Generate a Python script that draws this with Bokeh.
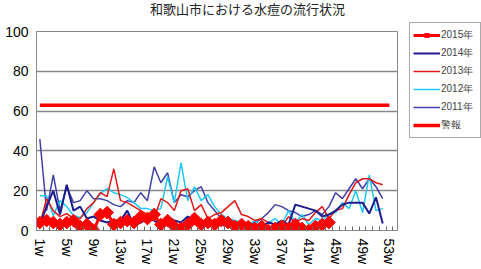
from bokeh.plotting import figure
from bokeh.layouts import row, column
from bokeh.models import FixedTicker, Legend, LegendItem
from bokeh.core.properties import value
from bokeh.embed import file_html
from bokeh.resources import INLINE

title_text = "和歌山市における水痘の流行状況"
weeks = list(range(1, 54))
tick_weeks = [1, 5, 9, 13, 17, 21, 25, 29, 33, 37, 41, 45, 49, 53]
tick_labels = ["1w", "5w", "9w", "13w", "17w", "21w", "25w", "29w", "33w",
               "37w", "41w", "45w", "49w", "53w"]
series_names = ["2015年", "2014年", "2013年", "2012年", "2011年", "警報"]

y2015 = [4, 5, 4, 3, 4, 5, 2, 3, 0, 8, 9, 3, 4, 5, 4, 7, 6, 8, 3, 5, 2, 1,
         3, 6, 3, 4, 3, 5, 4, 2, 3, 2, 1, 2, 0, 1, 2, 1, 3, 1, 0, 2, 3, 4]
y2014 = [3, 12, 20, 8, 23, 10, 12, 6, 7, 5, 4, 5, 5, 10, 2.5, 4, 6, 5, 3, 7,
         5, 4, 7, 5, 3, 4, 5, 3, 2, 4, 3, 2, 3, 2, 4, 3, 5, 3, 13, 12, 11, 10,
         7, 8, 10, 13, 14, 14, 14, 8.5, 16.7, 3.5]
y2013 = [3, 16, 10, 7, 8.5, 6, 6, 11, 14, 19, 17, 31, 15, 14, 12, 10, 8, 6,
         16, 14, 10, 20, 21, 10, 13, 6, 8, 9, 12, 15, 8, 7, 5, 6, 4, 3, 2, 7,
         4, 6, 5, 9, 12, 6, 10, 11, 18, 24, 26, 26, 24, 23]
y2012 = [17.5, 17.5, 7.5, 15, 12, 7.5, 6.5, 9, 14, 18.5, 21, 19, 18, 16.5, 14,
         11, 11, 10, 11, 27, 14, 34, 15, 22, 15, 18, 12, 8, 6, 5, 4, 3, 5, 2,
         4, 6, 3, 10, 4, 8, 3, 6, 5, 8, 9, 14, 11, 20, 9, 28, 10, 11]
y2011 = [46, 10, 28, 10, 22, 14, 15, 20, 16, 16, 15, 13, 12, 15, 14, 19, 15,
         32, 24, 29, 14, 18, 17, 20, 22, 14, 10, 6, 4, 3, 5, 3, 4, 6, 9, 13,
         12, 10, 9, 7, 8, 10, 8, 12, 19, 16, 21, 26, 21, 26, 22, 16]
warning = [63] * 53

colors = {"2015": "#FF0000", "2014": "#1C1C8C", "2013": "#E01818",
          "2012": "#1EC8F5", "2011": "#4040A8", "warn": "#FF0000"}


def no_align(fig):
    try:
        fig.frame_align = False
    except Exception:
        pass


# title strip
tf = figure(width=481, height=17, output_backend="svg", toolbar_location=None,
            x_axis_type=None, y_axis_type=None, x_range=(0, 481),
            y_range=(0, 17), min_border=0)
tf.outline_line_color = None
tf.grid.visible = False
tf.text(x=[247], y=[9], text=[title_text], text_align="center",
        text_baseline="middle", text_font=value("Noto Sans CJK JP"),
        text_font_size="13px", text_color="#222222")
no_align(tf)

p = figure(width=405, height=252, x_range=(0.5, 54.2), y_range=(0, 100),
           output_backend="svg", toolbar_location=None,
           min_border_left=36, min_border_right=8, min_border_top=14,
           min_border_bottom=39)
no_align(p)

p.outline_line_color = "#888888"
p.xgrid.visible = False
p.ygrid.ticker = FixedTicker(ticks=[20, 40, 60, 80])
p.ygrid.grid_line_color = "#888888"
p.ygrid.grid_line_width = 1.3

p.yaxis.ticker = FixedTicker(ticks=[0, 20, 40, 60, 80, 100])
p.yaxis.major_tick_out = 0
p.yaxis.major_tick_in = 0
p.yaxis.minor_tick_out = 0
p.yaxis.axis_line_color = "#888888"
p.yaxis.major_label_text_font = "Liberation Sans"
p.yaxis.major_label_text_font_size = "14px"
p.yaxis.major_label_text_color = "#000000"
p.yaxis.major_label_standoff = 8

p.xaxis.ticker = FixedTicker(ticks=tick_weeks,
                             minor_ticks=[w - 0.5 for w in weeks] + [53.5])
p.xaxis.major_label_overrides = dict(zip(tick_weeks, tick_labels))
p.xaxis.major_label_orientation = "vertical"
p.xaxis.major_tick_out = 0
p.xaxis.major_tick_in = 0
p.xaxis.minor_tick_in = 4
p.xaxis.minor_tick_out = 0
p.xaxis.minor_tick_line_color = "#666666"
p.xaxis.axis_line_color = "#888888"
p.xaxis.major_label_text_font = "Liberation Sans"
p.xaxis.major_label_text_font_size = "14px"
p.xaxis.major_label_text_color = "#000000"
p.xaxis.major_label_standoff = 8

p.line(weeks[:52], y2011, line_color=colors["2011"], line_width=1.5)
p.line(weeks[:52], y2012, line_color=colors["2012"], line_width=1.5)
p.line(weeks[:52], y2013, line_color=colors["2013"], line_width=1.5)
p.line(weeks[:52], y2014, line_color=colors["2014"], line_width=2)
p.line(weeks, warning, line_color=colors["warn"], line_width=3.5)
p.line(weeks[:44], y2015, line_color=colors["2015"], line_width=3)
p.scatter(weeks[:44], y2015, marker="square", size=9, angle=0.785,
          fill_color=colors["2015"], line_color=colors["2015"])

# legend panel (proxy renderers placed outside the visible range)
lg = figure(width=76, height=252, output_backend="svg", toolbar_location=None,
            x_axis_type=None, y_axis_type=None, x_range=(0, 1), y_range=(0, 1),
            min_border=0)
no_align(lg)
lg.outline_line_color = None
lg.grid.visible = False
hx = [-10, -9]
hy = [-10, -10]
l15 = lg.line(x=hx, y=hy, line_color=colors["2015"], line_width=3)
m15 = lg.line(x=hx, y=hy, line_color=colors["2015"], line_width=5,
              line_dash="0 11 5 100")
l14 = lg.line(x=hx, y=hy, line_color=colors["2014"], line_width=2)
l13 = lg.line(x=hx, y=hy, line_color=colors["2013"], line_width=1.5)
l12 = lg.line(x=hx, y=hy, line_color=colors["2012"], line_width=1.5)
l11 = lg.line(x=hx, y=hy, line_color=colors["2011"], line_width=1.5)
lw = lg.line(x=hx, y=hy, line_color=colors["warn"], line_width=3.5)

legend = Legend(items=[
    LegendItem(label=series_names[0], renderers=[l15, m15]),
    LegendItem(label=series_names[1], renderers=[l14]),
    LegendItem(label=series_names[2], renderers=[l13]),
    LegendItem(label=series_names[3], renderers=[l12]),
    LegendItem(label=series_names[4], renderers=[l11]),
    LegendItem(label=series_names[5], renderers=[lw]),
], location=(4, 131))
legend.label_text_font = "Liberation Sans"
legend.label_text_font_size = "10px"
legend.glyph_width = 27
legend.glyph_height = 18
legend.label_height = 18
legend.label_width = 36
legend.spacing = 0
legend.padding = 3
legend.margin = 0
legend.label_standoff = 1
legend.border_line_color = "#555555"
legend.background_fill_color = "white"
legend.background_fill_alpha = 1
lg.add_layout(legend)

layout = column(tf, row(p, lg, spacing=0), spacing=0)
open("out.html", "w").write(file_html(layout, INLINE))
